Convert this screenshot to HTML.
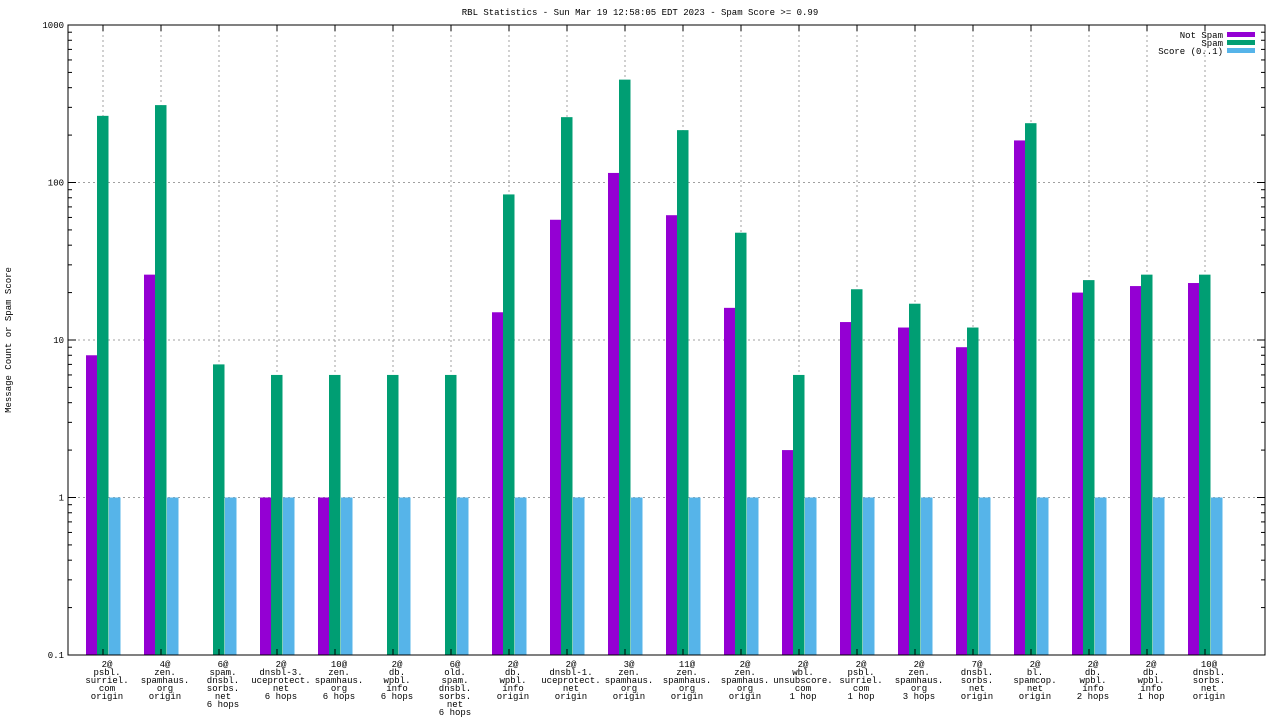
<!DOCTYPE html>
<html><head><meta charset="utf-8"><style>
body{margin:0;background:#fff}
text{font-family:"Liberation Mono",monospace;font-size:9px;fill:#000}
</style></head><body>
<svg id="c" width="1280" height="720" xmlns="http://www.w3.org/2000/svg">
<rect width="1280" height="720" fill="#fff"/>
<text x="640" y="15" text-anchor="middle">RBL Statistics - Sun Mar 19 12:58:05 EDT 2023 - Spam Score &gt;= 0.99</text>
<text transform="translate(11,340) rotate(-90)" text-anchor="middle">Message Count or Spam Score</text>
<g id="grid"></g><g id="bars"></g><g id="axes"></g>
<g>
<text x="1223" y="38" text-anchor="end">Not Spam</text>
<rect x="1227" y="32" width="28" height="5" fill="#9400d3"/>
<text x="1223" y="46" text-anchor="end">Spam</text>
<rect x="1227" y="40" width="28" height="5" fill="#009e73"/>
<text x="1223" y="54" text-anchor="end">Score (0..1)</text>
<rect x="1227" y="48" width="28" height="5" fill="#56b4e9"/>
</g>
</svg>
<script>
const categories=[["2@","psbl.","surriel.","com","origin"],["4@","zen.","spamhaus.","org","origin"],["6@","spam.","dnsbl.","sorbs.","net","6 hops"],["2@","dnsbl-3.","uceprotect.","net","6 hops"],["10@","zen.","spamhaus.","org","6 hops"],["2@","db.","wpbl.","info","6 hops"],["6@","old.","spam.","dnsbl.","sorbs.","net","6 hops"],["2@","db.","wpbl.","info","origin"],["2@","dnsbl-1.","uceprotect.","net","origin"],["3@","zen.","spamhaus.","org","origin"],["11@","zen.","spamhaus.","org","origin"],["2@","zen.","spamhaus.","org","origin"],["2@","wbl.","unsubscore.","com","1 hop"],["2@","psbl.","surriel.","com","1 hop"],["2@","zen.","spamhaus.","org","3 hops"],["7@","dnsbl.","sorbs.","net","origin"],["2@","bl.","spamcop.","net","origin"],["2@","db.","wpbl.","info","2 hops"],["2@","db.","wpbl.","info","1 hop"],["10@","dnsbl.","sorbs.","net","origin"]];
const notSpam=[8,26,0,1,1,0,0,15,58,115,62,16,2,13,12,9,185,20,22,23];
const spam=[265,310,7,6,6,6,6,84,260,450,215,48,6,21,17,12,238,24,26,26];
const score=[1,1,1,1,1,1,1,1,1,1,1,1,1,1,1,1,1,1,1,1];
const yTicks=[0.1,1,10,100,1000];
const yTickLabels=["0.1","1","10","100","1000"];
const L=68,R=1265,T=25,B=655;
const ns="http://www.w3.org/2000/svg";
function y(v){return B-(Math.log10(v)+1)/4*(B-T);}
function x(i){return 103+i*58;}
function mk(tag,attrs,parent){const e=document.createElementNS(ns,tag);for(const k in attrs)e.setAttribute(k,attrs[k]);document.getElementById(parent).appendChild(e);return e;}
yTicks.forEach((v,i)=>{
 if(i>0&&i<yTicks.length-1){const g=mk('line',{x1:L,x2:R,y1:y(v),y2:y(v),stroke:'#a0a0a0','stroke-dasharray':'2,3'},'grid');
 
 }
 const t=mk('text',{x:L-4,y:y(v)+3,'text-anchor':'end'},'axes');t.textContent=yTickLabels[i];
 
 
 mk('line',{x1:L,x2:L+8,y1:y(v),y2:y(v),stroke:'#000'},'axes');
 mk('line',{x1:R,x2:R-8,y1:y(v),y2:y(v),stroke:'#000'},'axes');
 if(i<yTicks.length-1)for(let m=2;m<10;m++){const yy=y(v*m);mk('line',{x1:L,x2:L+4,y1:yy,y2:yy,stroke:'#000'},'axes');mk('line',{x1:R,x2:R-4,y1:yy,y2:yy,stroke:'#000'},'axes');}
});
categories.forEach((c,i)=>{
 const cx=x(i);
 const g=mk('line',{x1:cx,x2:cx,y1:T,y2:B,stroke:'#a0a0a0','stroke-dasharray':'2,3'},'grid');
 
 
 mk('line',{x1:cx,x2:cx,y1:B,y2:B-6,stroke:'#000'},'axes');
 mk('line',{x1:cx,x2:cx,y1:T,y2:T+6,stroke:'#000'},'axes');
 [[notSpam,'#9400d3',-17,'bar-not-spam'],[spam,'#009e73',-6,'bar-spam'],[score,'#56b4e9',6,'bar-score']].forEach(([arr,col,off,name])=>{
  const v=arr[i]; if(v<=0)return;
  const r=mk('rect',{x:cx+off,y:y(v),width:11.5,height:B-y(v),fill:col},'bars');
  
  
 });
 const t=mk('text',{x:cx+4,'text-anchor':'middle'},'axes');
 
 
 c.forEach((ln,j)=>{const s=document.createElementNS(ns,'tspan');s.setAttribute('x',cx+4);s.setAttribute('y',667+j*8);s.textContent=ln;t.appendChild(s);});
});
const bd=mk('rect',{x:L,y:T,width:R-L,height:B-T,fill:'none',stroke:'#000'},'axes');


</script>
</body></html>
